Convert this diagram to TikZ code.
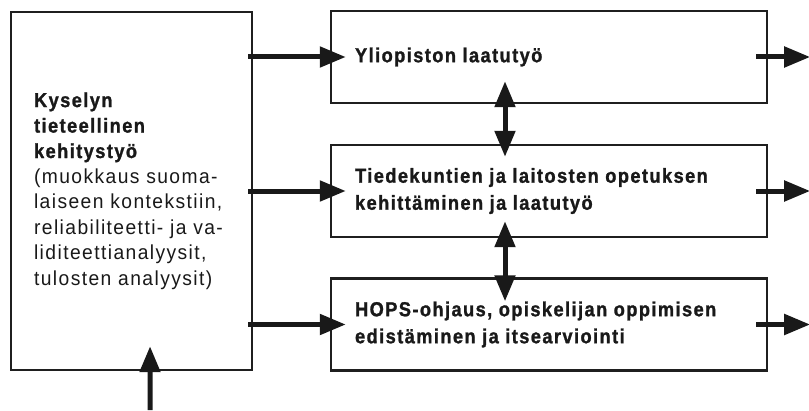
\documentclass[tikz,border=0pt]{standalone}
\usepackage{fontspec}
% narrow, slightly tracked sans for all labels; bold set narrower and heavier
\setmainfont{Liberation Sans}[LetterSpace=7, FakeStretch=0.95,
  BoldFont={Liberation Sans Bold}, BoldFeatures={FakeStretch=0.9, FakeBold=1.2}]
\usetikzlibrary{arrows.meta,calc}
\begin{document}
\begin{tikzpicture}[x=0.75pt,y=-0.75pt,
  box/.style={draw=black!88, fill=white, line width=1.8pt, minimum width=327pt,
              minimum height=69pt, inner sep=0pt},
  lbl/.style={anchor=west, align=left, inner sep=0pt, text=black!90,
              font=\fontsize{15.2pt}{20.25pt}\selectfont},
  tip/.tip={Triangle[length=19.5pt,width=15pt]},
  arr/.style={line width=3.75pt, draw=black!90, -tip},
  darr/.style={line width=3.75pt, draw=black!90, tip-tip},
]
\useasboundingbox (0,0) rectangle (809,410);

% boxes
\node[box, minimum width=180.75pt, minimum height=268.5pt] (src) at (131.5,191) {};
\node[box] (qa)   at (549,57)    {};
\node[box] (dev)  at (549,191)   {};
\node[box] (hops) at (549,324.5) {};

% labels
\node[lbl, font=\fontsize{15.2pt}{19.1pt}\selectfont] (srctxt) at ([xshift=18pt]src.west)
  {\textbf{Kyselyn}\\\textbf{tieteellinen}\\\textbf{kehitystyö}\\(muokkaus suoma-\\laiseen kontekstiin,\\reliabiliteetti- ja va-\\liditeettianalyysit,\\tulosten analyysit)};
\node[lbl] (qatxt)   at ([xshift=18.75pt]qa.west)   {\textbf{Yliopiston laatutyö}};
\node[lbl] (devtxt)  at ([xshift=18.75pt]dev.west)  {\textbf{Tiedekuntien ja laitosten opetuksen}\\\textbf{kehittäminen ja laatutyö}};
\node[lbl] (hopstxt) at ([xshift=18.75pt]hops.west) {\textbf{HOPS-ohjaus, opiskelijan oppimisen}\\\textbf{edistäminen ja itsearviointi}};

% outgoing arrows from the survey box
\draw[arr] ([xshift=-3.75pt]src.east |- qa.west)   -- ([xshift=12pt]qa.west);
\draw[arr] ([xshift=-3.75pt]src.east |- dev.west)  -- ([xshift=12pt]dev.west);
\draw[arr] ([xshift=-3.75pt]src.east |- hops.west) -- ([xshift=12pt]hops.west);

% arrows leaving to the right
\draw[arr] ([xshift=-9pt]qa.east)   -- ([xshift=31.5pt]qa.east);
\draw[arr] ([xshift=-9pt]dev.east)  -- ([xshift=31.5pt]dev.east);
\draw[arr] ([xshift=-9pt]hops.east) -- ([xshift=31.5pt]hops.east);

% links between the levels
\draw[darr] ([xshift=-33pt,yshift=17.25pt]qa.south) -- ([xshift=-33pt,yshift=-9.75pt]dev.north);
\draw[darr] ([xshift=-33pt,yshift=12.75pt]dev.south) -- ([xshift=-33pt,yshift=-18pt]hops.north);

% input from below
\coordinate (in) at (150,410);
\draw[arr] (in) -- ([xshift=13.9pt,yshift=18.75pt]src.south);
\end{tikzpicture}
\end{document}
